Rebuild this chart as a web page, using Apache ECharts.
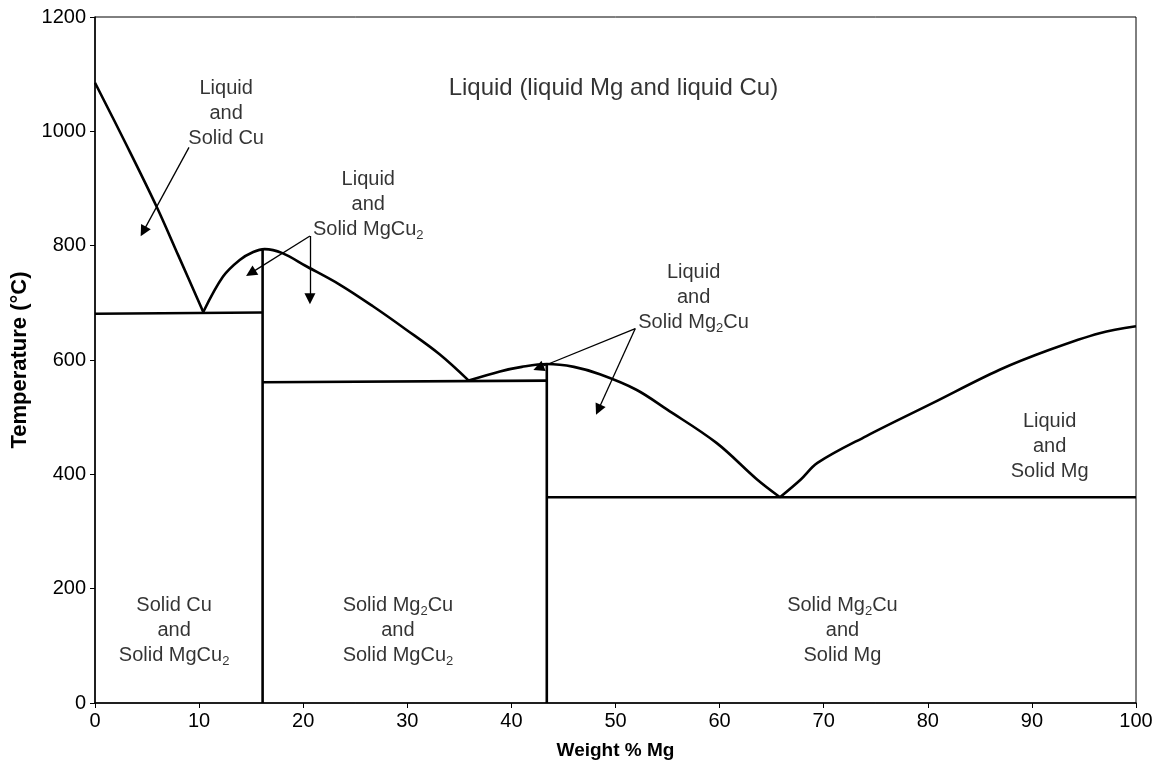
<!DOCTYPE html>
<html>
<head>
<meta charset="utf-8">
<title>Cu–Mg phase diagram</title>
<script src="https://cdn.jsdelivr.net/npm/echarts@6/dist/echarts.min.js"></script>
<style>
  html, body { margin: 0; padding: 0; background: #fff; }
  #chart { width: 1160px; height: 769px; }
</style>
</head>
<body>
<div id="chart"></div>
<script>
// ---- Phase boundary data: [weight % Mg, temperature °C] ----
const cuLiquidus    = [[0, 1085], [3, 977], [5.9, 869], [8, 783], [10.4, 684]];
const mgCu2Liquidus = [[10.4, 684], [12.3, 746], [13.9, 775], [15.2, 789], [16.3, 794], [18, 787],
                       [20.3, 764], [23.5, 732], [26.7, 694], [29.9, 653], [33.1, 610], [35.9, 564]];
const mg2CuLiquidus = [[35.9, 564], [38.9, 580], [41, 588], [43.4, 593], [46, 588], [48.5, 575],
                       [52, 548], [54.9, 514], [59.7, 455], [63.6, 391], [65.8, 360]];
const mgLiquidus    = [[65.8, 360], [67.8, 391], [69.4, 420], [74.1, 467], [80.5, 525],
                       [86.9, 583], [91.7, 618], [96.5, 647], [100, 659]];

// Eutectic isotherms and compound lines
const eutecticCuMgCu2    = [[0, 681], [16.1, 683]];
const eutecticMgCu2Mg2Cu = [[16.1, 561], [43.4, 564]];
const eutecticMg2CuMg    = [[43.4, 360], [100, 360]];
const mgCu2Line = [[16.1, 0], [16.1, 793]];
const mg2CuLine = [[43.4, 0], [43.4, 593]];

// ---- Axis ticks ----
const xTicks = [0, 10, 20, 30, 40, 50, 60, 70, 80, 90, 100];
const yTicks = [0, 200, 400, 600, 800, 1000, 1200];

// ---- Region labels (text; "_2" marks a subscript) ----
const labelTexts = [
  ['Liquid (liquid Mg and liquid Cu)'],
  ['Liquid', 'and', 'Solid Cu'],
  ['Liquid', 'and', 'Solid MgCu_2'],
  ['Liquid', 'and', 'Solid Mg_2Cu'],
  ['Liquid', 'and', 'Solid Mg'],
  ['Solid Cu', 'and', 'Solid MgCu_2'],
  ['Solid Mg_2Cu', 'and', 'Solid MgCu_2'],
  ['Solid Mg_2Cu', 'and', 'Solid Mg']
];

// Label anchors (centre of each text block, in data units)
const labelAnchors = [
  [49.8, 1076], [12.6, 1032], [26.25, 872], [57.5, 710],
  [91.7, 449], [7.6, 127], [29.1, 127], [71.8, 127]
];
const labelBig = [true, false, false, false, false, false, false, false];

// Pointer arrows: [from, to] in data units
const arrows = [
  [[9.03, 972], [4.64, 825]],
  [[20.65, 817], [14.96, 752]],
  [[20.65, 817], [20.65, 707]],
  [[51.9, 655], [42.6, 586]],
  [[51.9, 655], [48.35, 513]]
];

const FONT = '"Liberation Sans", Arial, Helvetica, sans-serif';

function richLine(str) {
  return str.split(/_(\d)/).map((p, i) => i % 2 ? '{s|' + p + '}' : (p ? '{t|' + p + '}' : '')).join('');
}

const boundaryStyle = { color: '#000', width: 2.6 };

function boundary(data, smooth) {
  return {
    type: 'line', data: data, showSymbol: false, symbol: 'none',
    smooth: smooth ? 0.35 : false, lineStyle: boundaryStyle,
    silent: true, z: 3, animation: false
  };
}

const labelData = labelTexts.map((lines, i) => ({
  value: labelAnchors[i],
  label: {
    show: true,
    position: 'inside',
    align: 'center',
    verticalAlign: 'middle',
    color: '#000',
    textBorderWidth: 0,
    formatter: lines.map(richLine).join('\n'),
    rich: {
      t: { fontSize: labelBig[i] ? 24 : 20, lineHeight: 25, color: '#000', fontFamily: FONT, align: 'center' },
      s: { fontSize: 13, lineHeight: 13, color: '#000', fontFamily: FONT, verticalAlign: 'bottom', align: 'center' }
    }
  }
}));

const chart = echarts.init(document.getElementById('chart'), null, { renderer: 'canvas' });

chart.setOption({
  animation: false,
  backgroundColor: '#fff',
  grid: {
    left: 95, right: 24, top: 17, bottom: 66,
    containLabel: false, outerBoundsMode: 'none',
    show: true, borderColor: '#000', borderWidth: 1, backgroundColor: 'transparent'
  },
  xAxis: {
    type: 'value', min: xTicks[0], max: xTicks[xTicks.length - 1], interval: xTicks[1] - xTicks[0],
    name: 'Weight % Mg', nameLocation: 'middle', nameGap: 38,
    nameTextStyle: { fontFamily: FONT, fontWeight: 'bold', fontSize: 19, color: '#000' },
    axisLine: { lineStyle: { color: '#000', width: 1.5 } },
    axisTick: { show: true, length: 5, lineStyle: { color: '#000', width: 1 } },
    axisLabel: { fontFamily: FONT, fontSize: 20, color: '#000', margin: 8, formatter: v => String(v) },
    splitLine: { show: false }
  },
  yAxis: {
    type: 'value', min: yTicks[0], max: yTicks[yTicks.length - 1], interval: yTicks[1] - yTicks[0],
    name: 'Temperature (°C)', nameLocation: 'middle', nameGap: 64, nameRotate: 90,
    nameTextStyle: { fontFamily: FONT, fontWeight: 'bold', fontSize: 22, color: '#000' },
    axisLine: { lineStyle: { color: '#000', width: 1.5 } },
    axisTick: { show: true, length: 5, lineStyle: { color: '#000', width: 1 } },
    axisLabel: { fontFamily: FONT, fontSize: 20, color: '#000', margin: 9, formatter: v => String(v) },
    splitLine: { show: false }
  },
  series: [
    boundary(cuLiquidus, true),
    boundary(mgCu2Liquidus, true),
    boundary(mg2CuLiquidus, true),
    boundary(mgLiquidus, true),
    boundary(eutecticCuMgCu2, false),
    boundary(eutecticMgCu2Mg2Cu, false),
    boundary(eutecticMg2CuMg, false),
    boundary(mgCu2Line, false),
    boundary(mg2CuLine, false),
    {
      type: 'lines', coordinateSystem: 'cartesian2d', polyline: false,
      symbol: ['none', 'triangle'], symbolSize: [0, 11],
      lineStyle: { color: '#000', width: 1.3, opacity: 1 },
      data: arrows.map(a => ({ coords: a })),
      silent: true, z: 4, animation: false
    },
    {
      type: 'scatter', symbolSize: 0, data: labelData,
      silent: true, z: 5, animation: false
    }
  ]
});
</script>
</body>
</html>
